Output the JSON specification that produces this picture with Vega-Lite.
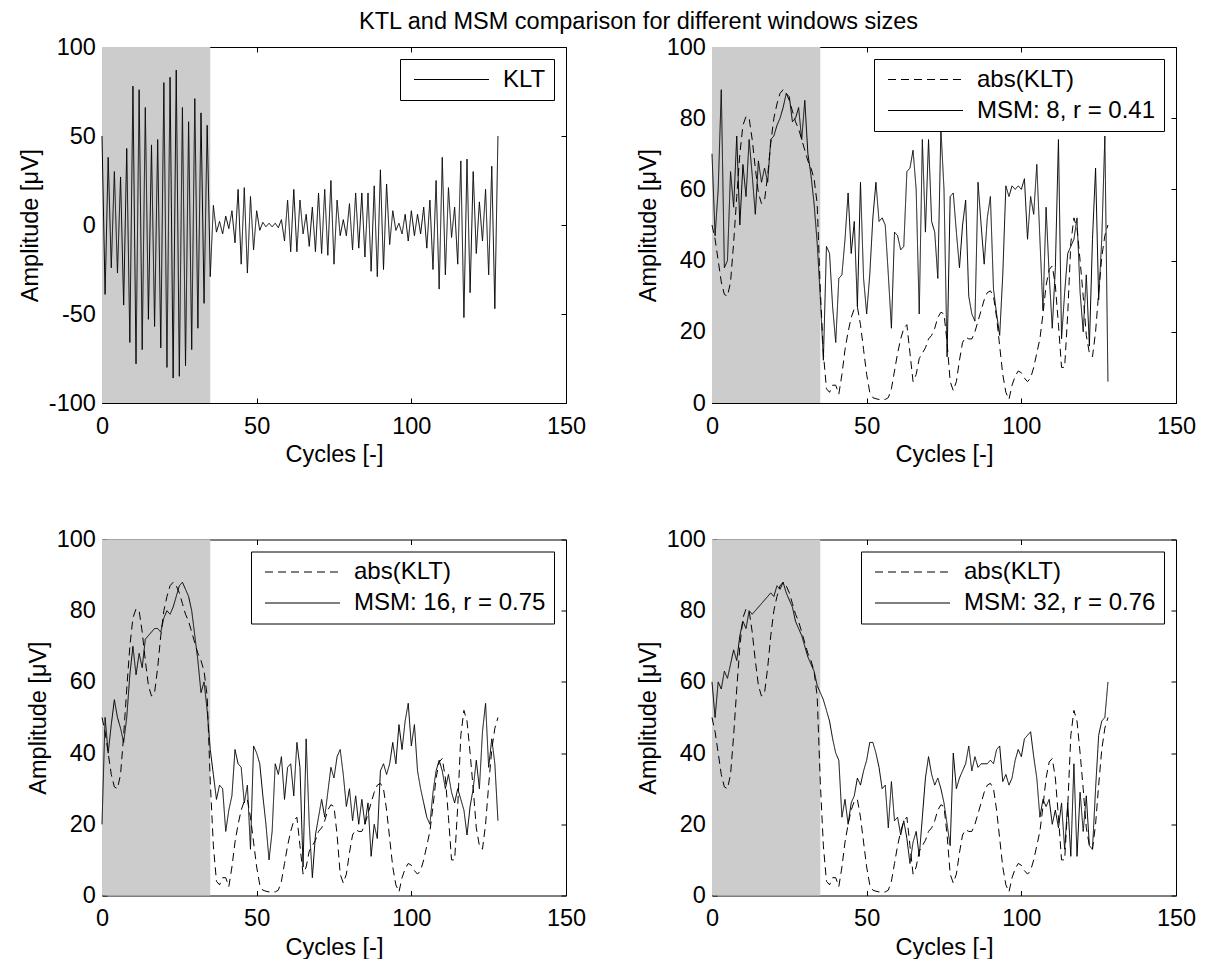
{
  "$schema": "https://vega.github.io/schema/vega-lite/v6.json",
  "padding": {"left": 18, "top": 10, "right": 5, "bottom": 0},
  "background": "white",
  "title": {"text": "KTL and MSM comparison for different windows sizes", "font": "Liberation Sans", "fontSize": 23.5, "fontWeight": "normal", "color": "black", "anchor": "start", "frame": "group", "dx": 257, "offset": 1},
  "config": {
    "view": {"stroke": "black", "strokeWidth": 1},
    "axis": {"labelFont": "Liberation Sans", "labelFontSize": 23.5, "labelColor": "black", "labelFlush": false, "titleFont": "Liberation Sans", "titleFontSize": 23.5, "titleFontWeight": "normal", "titleColor": "black", "tickColor": "black", "tickSize": -5, "tickWidth": 1, "grid": false, "domain": false},
    "axisX": {"labelPadding": 16, "titlePadding": 5},
    "axisY": {"labelPadding": 11.6, "titlePadding": 5.5},
    "legend": {"orient": "top-right", "offset": 12, "symbolType": "stroke", "symbolSize": 5625, "symbolStrokeWidth": 1, "symbolStrokeColor": "black", "symbolOffset": 5, "labelFont": "Liberation Sans", "labelFontSize": 24, "labelColor": "black", "labelLimit": 0, "strokeColor": "black", "fillColor": "white", "padding": 8.5, "rowPadding": 7, "labelOffset": 13.5, "clipHeight": 24},
    "line": {"color": "black", "strokeWidth": 1}
  },
  "datasets": {
    "klt": [{"x":0,"y":50},{"x":1,"y":-39},{"x":2,"y":38},{"x":3,"y":-24},{"x":4,"y":30},{"x":5,"y":-27},{"x":6,"y":27},{"x":7,"y":-45},{"x":8,"y":43},{"x":9,"y":-66},{"x":10,"y":78},{"x":11,"y":-78},{"x":12,"y":76},{"x":13,"y":-70},{"x":14,"y":66},{"x":15,"y":-53},{"x":16,"y":45},{"x":17,"y":-57},{"x":18,"y":48},{"x":19,"y":-69},{"x":20,"y":80},{"x":21,"y":-80},{"x":22,"y":83},{"x":23,"y":-86},{"x":24,"y":87},{"x":25,"y":-85},{"x":26,"y":66},{"x":27,"y":-79},{"x":28,"y":58},{"x":29,"y":-70},{"x":30,"y":71},{"x":31,"y":-58},{"x":32,"y":63},{"x":33,"y":-44},{"x":34,"y":56},{"x":35,"y":-29},{"x":36,"y":11},{"x":37,"y":-4},{"x":38,"y":2},{"x":39,"y":-5},{"x":40,"y":5},{"x":41,"y":-2},{"x":42,"y":8},{"x":43,"y":-10},{"x":44,"y":20},{"x":45,"y":-22},{"x":46,"y":21},{"x":47,"y":-27},{"x":48,"y":16},{"x":49,"y":-14},{"x":50,"y":8},{"x":51,"y":-3},{"x":52,"y":1.5},{"x":53,"y":-1},{"x":54,"y":1},{"x":55,"y":-1},{"x":56,"y":1},{"x":57,"y":-1.5},{"x":58,"y":3},{"x":59,"y":-9},{"x":60,"y":14},{"x":61,"y":-15},{"x":62,"y":20},{"x":63,"y":-15},{"x":64,"y":14},{"x":65,"y":-5},{"x":66,"y":6},{"x":67,"y":-12},{"x":68,"y":10},{"x":69,"y":-15},{"x":70,"y":18},{"x":71,"y":-16},{"x":72,"y":20},{"x":73,"y":-17},{"x":74,"y":25},{"x":75,"y":-22},{"x":76,"y":14},{"x":77,"y":-6},{"x":78,"y":3},{"x":79,"y":-6},{"x":80,"y":12},{"x":81,"y":-14},{"x":82,"y":18},{"x":83,"y":-13},{"x":84,"y":18},{"x":85,"y":-18},{"x":86,"y":18},{"x":87,"y":-26},{"x":88,"y":22},{"x":89,"y":-29},{"x":90,"y":31},{"x":91,"y":-25},{"x":92,"y":23},{"x":93,"y":-11},{"x":94,"y":8},{"x":95,"y":-3},{"x":96,"y":1},{"x":97,"y":-5},{"x":98,"y":6},{"x":99,"y":-9},{"x":100,"y":8},{"x":101,"y":-6},{"x":102,"y":6},{"x":103,"y":-5},{"x":104,"y":10},{"x":105,"y":-13},{"x":106,"y":14},{"x":107,"y":-25},{"x":108,"y":25},{"x":109,"y":-36},{"x":110,"y":38},{"x":111,"y":-28},{"x":112,"y":21},{"x":113,"y":-7},{"x":114,"y":10},{"x":115,"y":-22},{"x":116,"y":36},{"x":117,"y":-52},{"x":118,"y":37},{"x":119,"y":-38},{"x":120,"y":30},{"x":121,"y":-16},{"x":122,"y":13},{"x":123,"y":-9},{"x":124,"y":20},{"x":125,"y":-28},{"x":126,"y":33},{"x":127,"y":-47},{"x":128,"y":50}],
    "env": [{"x":0,"y":50},{"x":1,"y":46},{"x":2,"y":40},{"x":3,"y":34},{"x":4,"y":30.5},{"x":5,"y":30},{"x":6,"y":34},{"x":7,"y":45},{"x":8,"y":58},{"x":9,"y":70},{"x":10,"y":78},{"x":11,"y":80.5},{"x":12,"y":80},{"x":13,"y":74},{"x":14,"y":66},{"x":15,"y":59},{"x":16,"y":56},{"x":17,"y":57},{"x":18,"y":64},{"x":19,"y":73},{"x":20,"y":80},{"x":21,"y":84},{"x":22,"y":87},{"x":23,"y":88},{"x":24,"y":87},{"x":25,"y":85},{"x":26,"y":82},{"x":27,"y":79},{"x":28,"y":77},{"x":29,"y":74},{"x":30,"y":71},{"x":31,"y":68},{"x":32,"y":66},{"x":33,"y":63},{"x":34,"y":56},{"x":35,"y":32},{"x":36,"y":14},{"x":37,"y":4},{"x":38,"y":3},{"x":39,"y":5},{"x":40,"y":5},{"x":41,"y":2.5},{"x":42,"y":8},{"x":43,"y":15},{"x":44,"y":20},{"x":45,"y":24},{"x":46,"y":26.5},{"x":47,"y":27},{"x":48,"y":22},{"x":49,"y":15},{"x":50,"y":8},{"x":51,"y":3},{"x":52,"y":1.5},{"x":53,"y":1.2},{"x":54,"y":1},{"x":55,"y":1},{"x":56,"y":1},{"x":57,"y":1.5},{"x":58,"y":4},{"x":59,"y":9},{"x":60,"y":14},{"x":61,"y":18},{"x":62,"y":21},{"x":63,"y":22},{"x":64,"y":14},{"x":65,"y":6},{"x":66,"y":8},{"x":67,"y":12.5},{"x":68,"y":14},{"x":69,"y":15.5},{"x":70,"y":18},{"x":71,"y":19},{"x":72,"y":21},{"x":73,"y":24},{"x":74,"y":25.5},{"x":75,"y":25},{"x":76,"y":17},{"x":77,"y":6},{"x":78,"y":3.5},{"x":79,"y":6},{"x":80,"y":12},{"x":81,"y":17},{"x":82,"y":18.5},{"x":83,"y":18},{"x":84,"y":18},{"x":85,"y":20},{"x":86,"y":23},{"x":87,"y":26},{"x":88,"y":29},{"x":89,"y":31},{"x":90,"y":31.5},{"x":91,"y":30},{"x":92,"y":24},{"x":93,"y":16},{"x":94,"y":8},{"x":95,"y":3},{"x":96,"y":1},{"x":97,"y":5},{"x":98,"y":7.5},{"x":99,"y":9},{"x":100,"y":8.5},{"x":101,"y":7},{"x":102,"y":6},{"x":103,"y":7},{"x":104,"y":10},{"x":105,"y":14},{"x":106,"y":18},{"x":107,"y":25},{"x":108,"y":33},{"x":109,"y":37.5},{"x":110,"y":38.5},{"x":111,"y":33},{"x":112,"y":22},{"x":113,"y":10},{"x":114,"y":10},{"x":115,"y":25},{"x":116,"y":45},{"x":117,"y":52},{"x":118,"y":49},{"x":119,"y":40},{"x":120,"y":30},{"x":121,"y":19},{"x":122,"y":14},{"x":123,"y":13},{"x":124,"y":20},{"x":125,"y":31},{"x":126,"y":41},{"x":127,"y":47},{"x":128,"y":50}],
    "m8": [{"x":0,"y":70},{"x":1,"y":47},{"x":2,"y":60},{"x":3,"y":88},{"x":4,"y":38},{"x":5,"y":40},{"x":6,"y":65},{"x":7,"y":55},{"x":8,"y":75},{"x":9,"y":50},{"x":10,"y":67},{"x":11,"y":58},{"x":12,"y":74},{"x":13,"y":64},{"x":14,"y":53},{"x":15,"y":68},{"x":16,"y":62},{"x":17,"y":66},{"x":18,"y":62},{"x":19,"y":74},{"x":20,"y":75},{"x":21,"y":78},{"x":22,"y":80},{"x":23,"y":83},{"x":24,"y":87},{"x":25,"y":86},{"x":26,"y":79},{"x":27,"y":80},{"x":28,"y":83},{"x":29,"y":74},{"x":30,"y":85},{"x":31,"y":70},{"x":32,"y":64},{"x":33,"y":56},{"x":34,"y":45},{"x":35,"y":30},{"x":36,"y":12},{"x":37,"y":44},{"x":38,"y":42},{"x":39,"y":27},{"x":40,"y":17},{"x":41,"y":35},{"x":42,"y":36},{"x":43,"y":46},{"x":44,"y":59},{"x":45,"y":42},{"x":46,"y":51},{"x":47,"y":27},{"x":48,"y":62},{"x":49,"y":35},{"x":50,"y":25},{"x":51,"y":36},{"x":52,"y":52},{"x":53,"y":62},{"x":54,"y":51},{"x":55,"y":52},{"x":56,"y":50},{"x":57,"y":36},{"x":58,"y":21},{"x":59,"y":48},{"x":60,"y":47},{"x":61,"y":43},{"x":62,"y":44},{"x":63,"y":65},{"x":64,"y":66},{"x":65,"y":71},{"x":66,"y":60},{"x":67,"y":25},{"x":68,"y":74},{"x":69,"y":48},{"x":70,"y":74},{"x":71,"y":51},{"x":72,"y":48},{"x":73,"y":35},{"x":74,"y":77},{"x":75,"y":60},{"x":76,"y":13},{"x":77,"y":58},{"x":78,"y":59},{"x":79,"y":48},{"x":80,"y":38},{"x":81,"y":50},{"x":82,"y":57},{"x":83,"y":30},{"x":84,"y":25},{"x":85,"y":23},{"x":86,"y":62},{"x":87,"y":50},{"x":88,"y":39},{"x":89,"y":52},{"x":90,"y":58},{"x":91,"y":32},{"x":92,"y":25},{"x":93,"y":19},{"x":94,"y":36},{"x":95,"y":61},{"x":96,"y":58},{"x":97,"y":61},{"x":98,"y":60},{"x":99,"y":61},{"x":100,"y":60},{"x":101,"y":63},{"x":102,"y":46},{"x":103,"y":58},{"x":104,"y":53},{"x":105,"y":67},{"x":106,"y":46},{"x":107,"y":26},{"x":108,"y":55},{"x":109,"y":36},{"x":110,"y":21},{"x":111,"y":38},{"x":112,"y":74},{"x":113,"y":18},{"x":114,"y":31},{"x":115,"y":42},{"x":116,"y":44},{"x":117,"y":46},{"x":118,"y":52},{"x":119,"y":31},{"x":120,"y":20},{"x":121,"y":36},{"x":122,"y":16},{"x":123,"y":46},{"x":124,"y":66},{"x":125,"y":29},{"x":126,"y":46},{"x":127,"y":75},{"x":128,"y":6}],
    "m16": [{"x":0,"y":20},{"x":1,"y":50},{"x":2,"y":40},{"x":3,"y":48},{"x":4,"y":55},{"x":5,"y":50},{"x":6,"y":47},{"x":7,"y":43},{"x":8,"y":50},{"x":9,"y":62},{"x":10,"y":70},{"x":11,"y":62},{"x":12,"y":68},{"x":13,"y":64},{"x":14,"y":72},{"x":15,"y":73},{"x":16,"y":74},{"x":17,"y":75},{"x":18,"y":75},{"x":19,"y":74},{"x":20,"y":78},{"x":21,"y":80},{"x":22,"y":79},{"x":23,"y":81},{"x":24,"y":84},{"x":25,"y":87},{"x":26,"y":88},{"x":27,"y":86},{"x":28,"y":84},{"x":29,"y":80},{"x":30,"y":73},{"x":31,"y":66},{"x":32,"y":57},{"x":33,"y":60},{"x":34,"y":52},{"x":35,"y":41},{"x":36,"y":34},{"x":37,"y":27},{"x":38,"y":31},{"x":39,"y":30},{"x":40,"y":18},{"x":41,"y":24},{"x":42,"y":28},{"x":43,"y":41},{"x":44,"y":37},{"x":45,"y":36},{"x":46,"y":26},{"x":47,"y":31},{"x":48,"y":13},{"x":49,"y":42},{"x":50,"y":40},{"x":51,"y":37},{"x":52,"y":28},{"x":53,"y":20},{"x":54,"y":10},{"x":55,"y":18},{"x":56,"y":37},{"x":57,"y":34},{"x":58,"y":39},{"x":59,"y":27},{"x":60,"y":36},{"x":61,"y":37},{"x":62,"y":28},{"x":63,"y":43},{"x":64,"y":36},{"x":65,"y":8},{"x":66,"y":44},{"x":67,"y":20},{"x":68,"y":5},{"x":69,"y":17},{"x":70,"y":22},{"x":71,"y":27},{"x":72,"y":22},{"x":73,"y":29},{"x":74,"y":36},{"x":75,"y":33},{"x":76,"y":39},{"x":77,"y":41},{"x":78,"y":34},{"x":79,"y":25},{"x":80,"y":30},{"x":81,"y":21},{"x":82,"y":28},{"x":83,"y":20},{"x":84,"y":27},{"x":85,"y":20},{"x":86,"y":26},{"x":87,"y":11},{"x":88,"y":20},{"x":89,"y":16},{"x":90,"y":35},{"x":91,"y":37},{"x":92,"y":34},{"x":93,"y":37},{"x":94,"y":43},{"x":95,"y":37},{"x":96,"y":48},{"x":97,"y":41},{"x":98,"y":49},{"x":99,"y":54},{"x":100,"y":42},{"x":101,"y":48},{"x":102,"y":35},{"x":103,"y":30},{"x":104,"y":26},{"x":105,"y":22},{"x":106,"y":20},{"x":107,"y":29},{"x":108,"y":35},{"x":109,"y":38},{"x":110,"y":35},{"x":111,"y":30},{"x":112,"y":34},{"x":113,"y":29},{"x":114,"y":26},{"x":115,"y":30},{"x":116,"y":27},{"x":117,"y":24},{"x":118,"y":17},{"x":119,"y":25},{"x":120,"y":30},{"x":121,"y":38},{"x":122,"y":30},{"x":123,"y":46},{"x":124,"y":54},{"x":125,"y":36},{"x":126,"y":44},{"x":127,"y":37},{"x":128,"y":21}],
    "m32": [{"x":0,"y":60},{"x":1,"y":50},{"x":2,"y":60},{"x":3,"y":58},{"x":4,"y":63},{"x":5,"y":61},{"x":6,"y":65},{"x":7,"y":69},{"x":8,"y":66},{"x":9,"y":73},{"x":10,"y":77},{"x":11,"y":75},{"x":12,"y":80},{"x":13,"y":79},{"x":14,"y":80},{"x":15,"y":81},{"x":16,"y":82},{"x":17,"y":83},{"x":18,"y":84},{"x":19,"y":85},{"x":20,"y":84},{"x":21,"y":87},{"x":22,"y":86},{"x":23,"y":88},{"x":24,"y":85},{"x":25,"y":83},{"x":26,"y":81},{"x":27,"y":77},{"x":28,"y":75},{"x":29,"y":73},{"x":30,"y":70},{"x":31,"y":67},{"x":32,"y":65},{"x":33,"y":63},{"x":34,"y":59},{"x":35,"y":57},{"x":36,"y":55},{"x":37,"y":52},{"x":38,"y":49},{"x":39,"y":44},{"x":40,"y":40},{"x":41,"y":38},{"x":42,"y":22},{"x":43,"y":27},{"x":44,"y":20},{"x":45,"y":26},{"x":46,"y":28},{"x":47,"y":33},{"x":48,"y":31},{"x":49,"y":35},{"x":50,"y":38},{"x":51,"y":43},{"x":52,"y":43},{"x":53,"y":40},{"x":54,"y":36},{"x":55,"y":30},{"x":56,"y":31},{"x":57,"y":19},{"x":58,"y":32},{"x":59,"y":21},{"x":60,"y":22},{"x":61,"y":17},{"x":62,"y":21},{"x":63,"y":16},{"x":64,"y":9},{"x":65,"y":15},{"x":66,"y":18},{"x":67,"y":11},{"x":68,"y":22},{"x":69,"y":33},{"x":70,"y":39},{"x":71,"y":34},{"x":72,"y":31},{"x":73,"y":33},{"x":74,"y":30},{"x":75,"y":26},{"x":76,"y":20},{"x":77,"y":14},{"x":78,"y":40},{"x":79,"y":30},{"x":80,"y":33},{"x":81,"y":35},{"x":82,"y":37},{"x":83,"y":42},{"x":84,"y":35},{"x":85,"y":39},{"x":86,"y":36},{"x":87,"y":37},{"x":88,"y":37},{"x":89,"y":37},{"x":90,"y":38},{"x":91,"y":37},{"x":92,"y":41},{"x":93,"y":42},{"x":94,"y":32},{"x":95,"y":34},{"x":96,"y":31},{"x":97,"y":33},{"x":98,"y":38},{"x":99,"y":41},{"x":100,"y":39},{"x":101,"y":44},{"x":102,"y":45},{"x":103,"y":46},{"x":104,"y":39},{"x":105,"y":33},{"x":106,"y":22},{"x":107,"y":27},{"x":108,"y":25},{"x":109,"y":27},{"x":110,"y":20},{"x":111,"y":24},{"x":112,"y":19},{"x":113,"y":26},{"x":114,"y":13},{"x":115,"y":26},{"x":116,"y":11},{"x":117,"y":37},{"x":118,"y":11},{"x":119,"y":29},{"x":120,"y":18},{"x":121,"y":28},{"x":122,"y":14},{"x":123,"y":13},{"x":124,"y":30},{"x":125,"y":45},{"x":126,"y":49},{"x":127,"y":50},{"x":128,"y":60}],
    "shade": [{"start": 0, "end": 35}]
  },
  "columns": 2,
  "spacing": {"row": 136.5, "column": 146},
  "bounds": "flush",
  "resolve": {"scale": {"strokeDash": "independent"}},
  "concat": [
    {
      "width": 464, "height": 356,
      "resolve": {"axis": {"x": "independent", "y": "independent"}},
      "layer": [
        {"data": {"name": "shade"}, "mark": {"type": "rect", "color": "#cccccc"},
         "encoding": {
           "x": {"field": "start", "type": "quantitative", "scale": {"domain": [0, 150], "nice": false}, "axis": {"values": [0, 50, 100, 150], "title": "Cycles [-]"}},
           "x2": {"field": "end"},
           "y": {"datum": -100, "type": "quantitative", "scale": {"domain": [-100, 100], "nice": false}, "axis": {"values": [-100, -50, 0, 50, 100], "title": "Amplitude [μV]", "labelExpr": "'' + datum.value"}},
           "y2": {"datum": 100}
         }},
        {"data": {"name": "klt"}, "mark": {"type": "line", "color": "black", "strokeWidth": 1},
         "encoding": {
           "x": {"field": "x", "type": "quantitative", "axis": {"orient": "top", "values": [0, 50, 100, 150], "labels": false, "title": null}},
           "y": {"field": "y", "type": "quantitative", "axis": {"orient": "right", "values": [-100, -50, 0, 50, 100], "labels": false, "title": null}},
           "strokeDash": {"datum": "KLT", "type": "nominal", "scale": {"domain": ["KLT"], "range": [[1, 0]]}, "legend": {"title": null}}
         }}
      ]
    },
    {
      "width": 464, "height": 356,
      "resolve": {"axis": {"x": "independent", "y": "independent"}},
      "layer": [
        {"data": {"name": "shade"}, "mark": {"type": "rect", "color": "#cccccc"},
         "encoding": {
           "x": {"field": "start", "type": "quantitative", "scale": {"domain": [0, 150], "nice": false}, "axis": {"values": [0, 50, 100, 150], "title": "Cycles [-]"}},
           "x2": {"field": "end"},
           "y": {"datum": 0, "type": "quantitative", "scale": {"domain": [0, 100], "nice": false}, "axis": {"values": [0, 20, 40, 60, 80, 100], "title": "Amplitude [μV]"}},
           "y2": {"datum": 100}
         }},
        {"data": {"name": "env"}, "mark": {"type": "line", "color": "black", "strokeWidth": 1},
         "encoding": {
           "x": {"field": "x", "type": "quantitative", "axis": {"orient": "top", "values": [0, 50, 100, 150], "labels": false, "title": null}},
           "y": {"field": "y", "type": "quantitative", "axis": {"orient": "right", "values": [0, 20, 40, 60, 80, 100], "labels": false, "title": null}},
           "strokeDash": {"datum": "abs(KLT)", "type": "nominal", "scale": {"domain": ["abs(KLT)", "MSM: 8, r = 0.41"], "range": [[8, 5], [1, 0]]}, "legend": {"title": null}}
         }},
        {"data": {"name": "m8"}, "mark": {"type": "line", "color": "black", "strokeWidth": 1},
         "encoding": {
           "x": {"field": "x", "type": "quantitative", "axis": null},
           "y": {"field": "y", "type": "quantitative", "axis": null},
           "strokeDash": {"datum": "MSM: 8, r = 0.41", "type": "nominal"}
         }}
      ]
    },
    {
      "width": 464, "height": 356,
      "resolve": {"axis": {"x": "independent", "y": "independent"}},
      "layer": [
        {"data": {"name": "shade"}, "mark": {"type": "rect", "color": "#cccccc"},
         "encoding": {
           "x": {"field": "start", "type": "quantitative", "scale": {"domain": [0, 150], "nice": false}, "axis": {"values": [0, 50, 100, 150], "title": "Cycles [-]"}},
           "x2": {"field": "end"},
           "y": {"datum": 0, "type": "quantitative", "scale": {"domain": [0, 100], "nice": false}, "axis": {"values": [0, 20, 40, 60, 80, 100], "title": "Amplitude [μV]"}},
           "y2": {"datum": 100}
         }},
        {"data": {"name": "env"}, "mark": {"type": "line", "color": "black", "strokeWidth": 1},
         "encoding": {
           "x": {"field": "x", "type": "quantitative", "axis": {"orient": "top", "values": [0, 50, 100, 150], "labels": false, "title": null}},
           "y": {"field": "y", "type": "quantitative", "axis": {"orient": "right", "values": [0, 20, 40, 60, 80, 100], "labels": false, "title": null}},
           "strokeDash": {"datum": "abs(KLT)", "type": "nominal", "scale": {"domain": ["abs(KLT)", "MSM: 16, r = 0.75"], "range": [[8, 5], [1, 0]]}, "legend": {"title": null}}
         }},
        {"data": {"name": "m16"}, "mark": {"type": "line", "color": "black", "strokeWidth": 1},
         "encoding": {
           "x": {"field": "x", "type": "quantitative", "axis": null},
           "y": {"field": "y", "type": "quantitative", "axis": null},
           "strokeDash": {"datum": "MSM: 16, r = 0.75", "type": "nominal"}
         }}
      ]
    },
    {
      "width": 464, "height": 356,
      "resolve": {"axis": {"x": "independent", "y": "independent"}},
      "layer": [
        {"data": {"name": "shade"}, "mark": {"type": "rect", "color": "#cccccc"},
         "encoding": {
           "x": {"field": "start", "type": "quantitative", "scale": {"domain": [0, 150], "nice": false}, "axis": {"values": [0, 50, 100, 150], "title": "Cycles [-]"}},
           "x2": {"field": "end"},
           "y": {"datum": 0, "type": "quantitative", "scale": {"domain": [0, 100], "nice": false}, "axis": {"values": [0, 20, 40, 60, 80, 100], "title": "Amplitude [μV]"}},
           "y2": {"datum": 100}
         }},
        {"data": {"name": "env"}, "mark": {"type": "line", "color": "black", "strokeWidth": 1},
         "encoding": {
           "x": {"field": "x", "type": "quantitative", "axis": {"orient": "top", "values": [0, 50, 100, 150], "labels": false, "title": null}},
           "y": {"field": "y", "type": "quantitative", "axis": {"orient": "right", "values": [0, 20, 40, 60, 80, 100], "labels": false, "title": null}},
           "strokeDash": {"datum": "abs(KLT)", "type": "nominal", "scale": {"domain": ["abs(KLT)", "MSM: 32, r = 0.76"], "range": [[8, 5], [1, 0]]}, "legend": {"title": null}}
         }},
        {"data": {"name": "m32"}, "mark": {"type": "line", "color": "black", "strokeWidth": 1},
         "encoding": {
           "x": {"field": "x", "type": "quantitative", "axis": null},
           "y": {"field": "y", "type": "quantitative", "axis": null},
           "strokeDash": {"datum": "MSM: 32, r = 0.76", "type": "nominal"}
         }}
      ]
    }
  ]
}
